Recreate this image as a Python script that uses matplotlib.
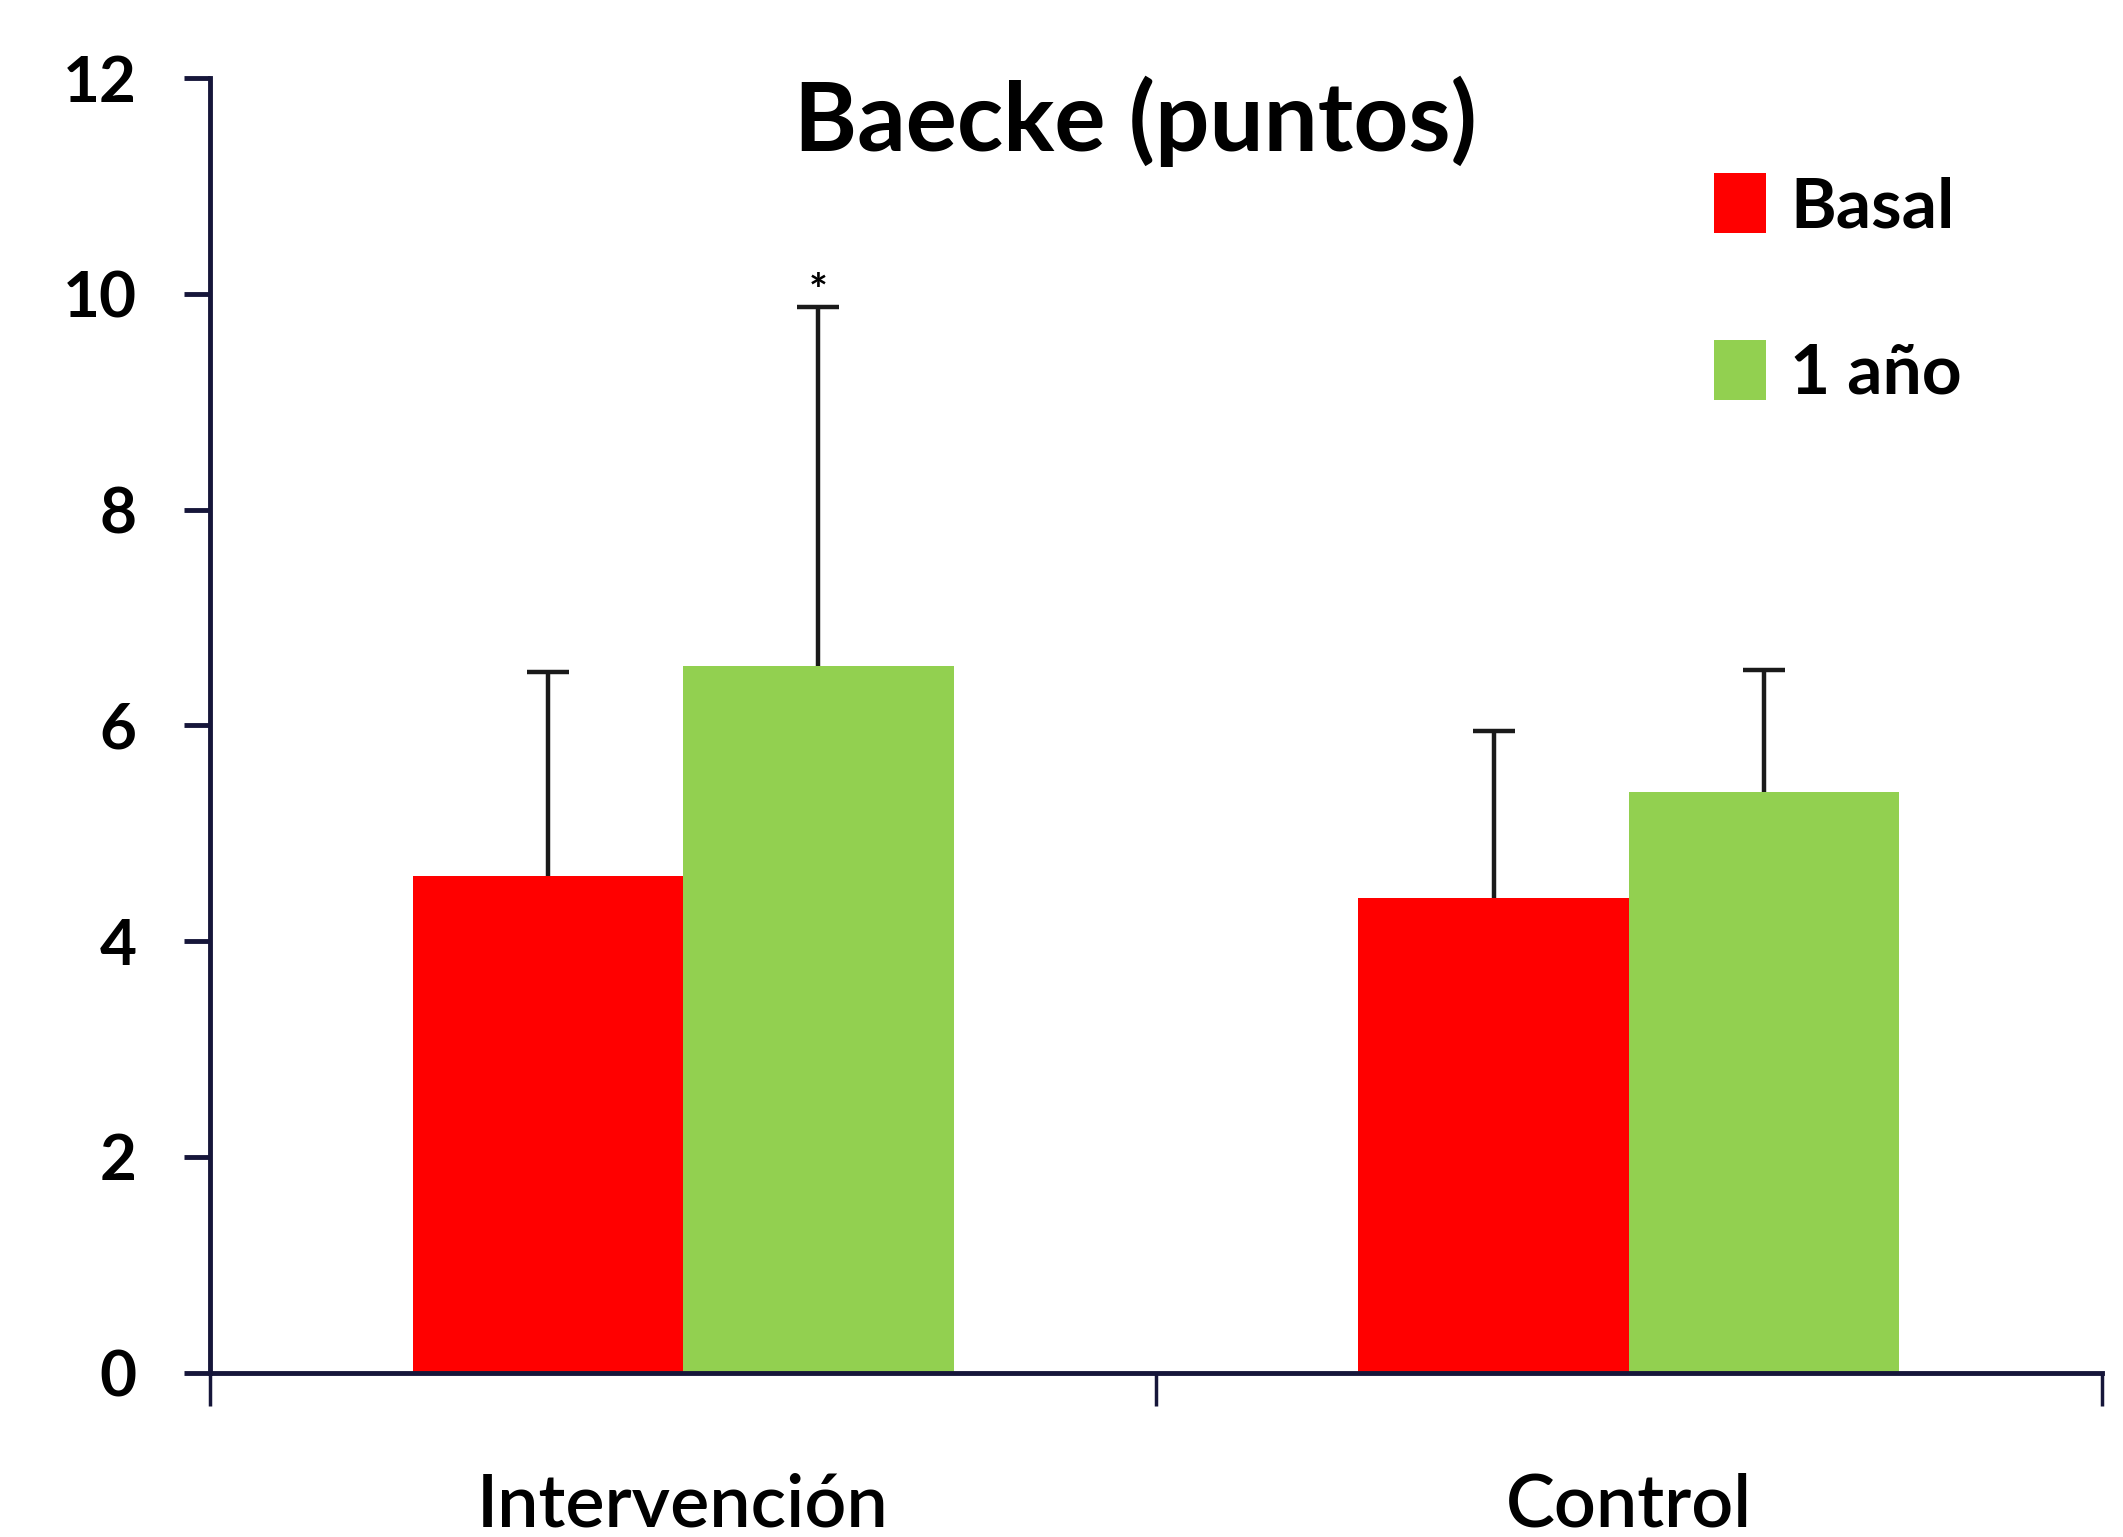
import numpy as np
import matplotlib.pyplot as plt

# Baecke score per group, basal vs one year
grupos = ['Intervención', 'Control']
series = ['Basal', '1 año']
basal = [4.6, 4.4]
basal_err = [1.9, 1.55]
un_anio = [6.55, 5.38]
un_anio_err = [3.33, 1.13]
colores = ['#FF0000', '#92D050']
marca = ['*', '']   # significance over the 1 año bars

plt.rcParams['font.family'] = ['Lato', 'DejaVu Sans']

fig = plt.figure(figsize=(21.23, 15.37), dpi=100)
ax = fig.add_axes([0.099, 0.107, 0.891, 0.842])

x = np.arange(len(grupos))
w = 0.286
eb = dict(ecolor='#1a1a1a', elinewidth=3.2, capsize=15, capthick=3.2)

b1 = ax.bar(x - w/2, basal, w, color=colores[0], label=series[0],
            yerr=[np.zeros(len(x)), basal_err], error_kw=eb, zorder=2)
b2 = ax.bar(x + w/2, un_anio, w, color=colores[1], label=series[1],
            yerr=[np.zeros(len(x)), un_anio_err], error_kw=eb, zorder=2)

# only the upper half of each error bar gets a cap
for b in (b1, b2):
    caps = b.errorbar.lines[1]
    caps[0].set_visible(False)

for i, m in enumerate(marca):
    if m:
        ax.text(x[i] + w/2, un_anio[i] + un_anio_err[i] - 0.05, m,
                ha='center', va='bottom', fontsize=32, fontweight='bold')

ax.set_xlim(-0.5, 1.5)
ax.set_ylim(0, 12)
ax.set_yticks(np.arange(0, 13, 2))
ax.set_xticks([-0.5, 0.5, 1.5], labels=['', '', ''])
ax.set_xticks(x, labels=grupos, minor=True)

spine_c = '#16163a'
for s in ['top', 'right']:
    ax.spines[s].set_visible(False)
for s in ['left', 'bottom']:
    ax.spines[s].set_color(spine_c)
    ax.spines[s].set_linewidth(3.5)

ax.tick_params(axis='y', direction='out', length=19, width=3.5, color=spine_c,
               labelsize=46, pad=34)
ax.tick_params(axis='x', which='major', direction='out', length=24, width=2.5,
               color=spine_c)
ax.tick_params(axis='x', which='minor', length=0, labelsize=53, pad=72)
for lab in ax.get_yticklabels():
    lab.set_fontweight('bold')
for lab in ax.get_xticklabels(minor=True):
    lab.set_fontweight('semibold')

fig.text(0.535, 0.921, 'Baecke (puntos)', ha='center', va='center',
         fontsize=69, fontweight='bold')

ax.legend(handles=[b1, b2], loc='upper left', bbox_to_anchor=(0.762, 0.975),
          frameon=False, handlelength=0.75, handleheight=0.95,
          handletextpad=0.35, labelspacing=1.45,
          prop={'weight': 'bold', 'size': 50})

fig.savefig('out.png', dpi=100)
